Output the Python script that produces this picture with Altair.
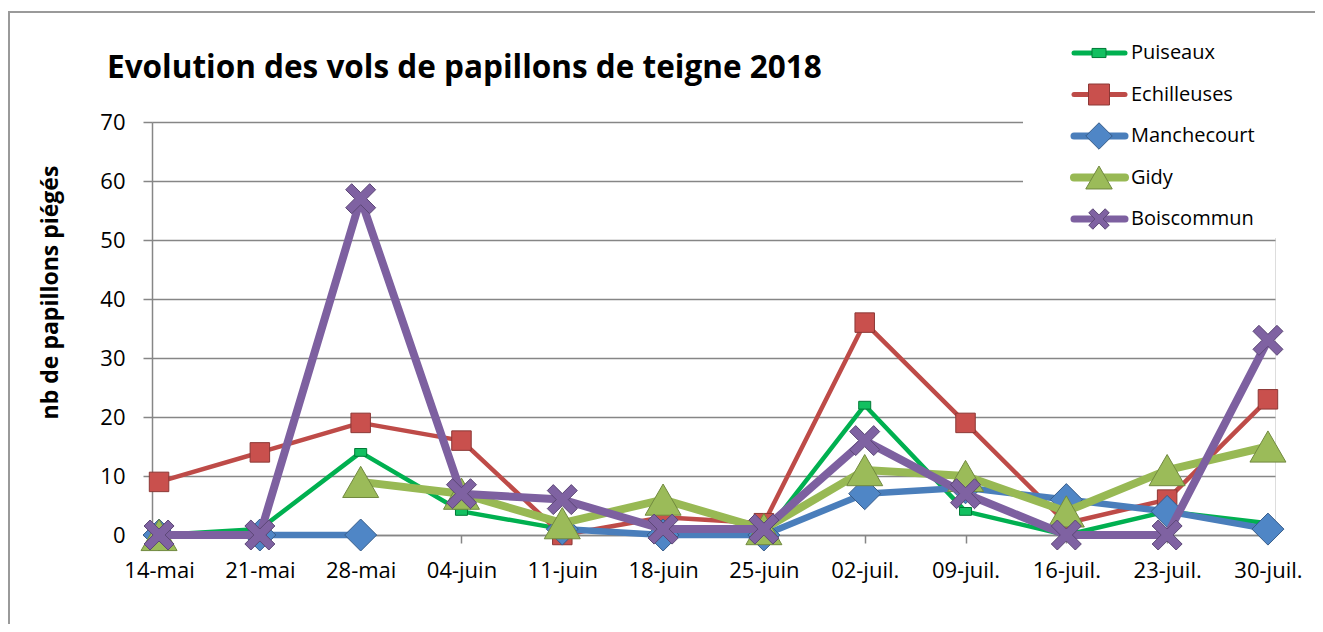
import altair as alt
import pandas as pd

# ---------------- data ----------------
dates = ["14-mai", "21-mai", "28-mai", "04-juin", "11-juin", "18-juin",
         "25-juin", "02-juil.", "09-juil.", "16-juil.", "23-juil.", "30-juil."]
sites = ["Puiseaux", "Echilleuses", "Manchecourt", "Gidy", "Boiscommun"]

puiseaux = [0, 1, 14, 4, 1, 0, 0, 22, 4, 0, 4, 2]
echilleuses = [9, 14, 19, 16, 0, 3, 2, 36, 19, 2, 6, 23]
manchecourt = [0, 0, 0, None, 1, 0, 0, 7, 8, 6, 4, 1]
gidy = [0, None, 9, 7, 2, 6, 1, 11, 10, 4, 11, 15]
boiscommun = [0, 0, 57, 7, 6, 1, 1, 16, 7, 0, 0, 33]

y_ticks = [0, 10, 20, 30, 40, 50, 60, 70]
title_text = "Evolution des vols de papillons de teigne 2018"
y_title = "nb  de papillons piégés"

series = {"Puiseaux": puiseaux, "Echilleuses": echilleuses,
          "Manchecourt": manchecourt, "Gidy": gidy, "Boiscommun": boiscommun}

rows = []
for s in sites:
    for d, v in zip(dates, series[s]):
        rows.append({"date": d, "site": s, "n": v})
df = pd.DataFrame(rows)

# ---------------- styles ----------------
line_colors = {"Puiseaux": "#00B050", "Echilleuses": "#BE4B48", "Manchecourt": "#4A7EBB",
               "Gidy": "#98B954", "Boiscommun": "#7D60A0"}
fill_colors = {"Puiseaux": "#12C060", "Echilleuses": "#C9504D", "Manchecourt": "#4F86C6",
               "Gidy": "#9BBB59", "Boiscommun": "#7F62A2"}
stroke_colors = {"Puiseaux": "#007A37", "Echilleuses": "#8C3836", "Manchecourt": "#385D8A",
                 "Gidy": "#71893F", "Boiscommun": "#5C4776"}
line_widths = {"Puiseaux": 4.5, "Echilleuses": 4.5, "Manchecourt": 6.5, "Gidy": 8, "Boiscommun": 8}
legend_line_widths = {"Puiseaux": 5, "Echilleuses": 5, "Manchecourt": 7, "Gidy": 8, "Boiscommun": 7}

X_PATH = "M-1,-0.6L-0.6,-1L0,-0.4L0.6,-1L1,-0.6L0.4,0L1,0.6L0.6,1L0,0.4L-0.6,1L-1,0.6L-0.4,0Z"
marker_shapes = {"Puiseaux": "M-1,-0.65H1V0.65H-1Z", "Echilleuses": "square",
                 "Manchecourt": "diamond", "Gidy": "triangle-up", "Boiscommun": X_PATH}
marker_sizes = {"Puiseaux": 144, "Echilleuses": 380, "Manchecourt": 1024, "Gidy": 1296,
                "Boiscommun": 900}
legend_marker_sizes = {"Puiseaux": 196, "Echilleuses": 441, "Manchecourt": 700, "Gidy": 700,
                       "Boiscommun": 420}

FONT = "Open Sans"

x_enc = alt.X("date:N", sort=dates, scale=alt.Scale(type="point", padding=0.07),
              axis=alt.Axis(title=None, labelAngle=0, labelFont=FONT, labelFontSize=22,
                            labelColor="black", labelPadding=17, tickSize=8,
                            tickColor="#868686", domainColor="#868686", domainWidth=1.5,
                            tickWidth=1.5, grid=False))
y_enc = alt.Y("n:Q", scale=alt.Scale(domain=[0, 70], nice=False, zero=True),
              axis=alt.Axis(values=y_ticks, title=y_title, titleFont=FONT, titleFontSize=23,
                            titleFontWeight="bold", titleColor="black", titleX=-95, titleY=170,
                            titleBaseline="alphabetic", titleAngle=270,
                            labelFont=FONT, labelFontSize=22, labelColor="black",
                            labelPadding=18, tickSize=9, tickColor="#868686", tickWidth=1.5,
                            domainColor="#868686", domainWidth=1.5, gridColor="#868686",
                            gridWidth=1.5, grid=True))

base = alt.Chart(df)
one = pd.DataFrame({"k": [0]})
layers = []

# white area behind the legend (hides gridlines there)
layers.append(alt.Chart(one).mark_rect(color="white").encode(
    x=alt.value(871), x2=alt.value(1124), y=alt.value(-95), y2=alt.value(116)))

for s in sites:
    sub = base.transform_filter(alt.datum.site == s)
    layers.append(sub.mark_line(strokeWidth=line_widths[s], strokeJoin="round",
                                color=line_colors[s],
                                invalid="break-paths-show-domains")
                  .encode(x=x_enc, y=y_enc))
    layers.append(sub.mark_point(filled=True, shape=marker_shapes[s], size=marker_sizes[s],
                                 fill=fill_colors[s], stroke=stroke_colors[s], strokeWidth=1,
                                 opacity=1)
                  .encode(x=x_enc, y=y_enc))

# legend (line sample + marker + label), top right
LEG_X0, LEG_X1, LEG_XM, LEG_XT = 919, 976, 947, 979
LEG_Y0, LEG_DY = -69, 41.5
for i, s in enumerate(sites):
    yy = LEG_Y0 + i * LEG_DY
    leg = alt.Chart(pd.DataFrame({"site": [s]}))
    layers.append(leg.mark_rule(color=line_colors[s], strokeWidth=legend_line_widths[s],
                                strokeCap="round").encode(
        x=alt.value(LEG_X0 + 3), x2=alt.value(LEG_X1 - 3), y=alt.value(yy)))
    layers.append(leg.mark_point(filled=True, shape=marker_shapes[s], size=legend_marker_sizes[s],
                                 fill=fill_colors[s], stroke=stroke_colors[s], strokeWidth=1,
                                 opacity=1).encode(x=alt.value(LEG_XM), y=alt.value(yy)))
    layers.append(leg.mark_text(font=FONT, fontSize=20, color="black", align="left",
                                baseline="middle").encode(
        x=alt.value(LEG_XT), y=alt.value(yy), text="site:N"))

# frame (left and top edges of the chart area border)
layers.append(alt.Chart(one).mark_rule(color="#9a9a9a", strokeWidth=2).encode(
    x=alt.value(-143), y=alt.value(-110), y2=alt.value(502)))
layers.append(alt.Chart(one).mark_rule(color="#9a9a9a", strokeWidth=2).encode(
    x=alt.value(-144), x2=alt.value(1163), y=alt.value(-110)))

# title
layers.append(alt.Chart(one).mark_text(text=title_text, font=FONT, fontSize=31.5,
                                       fontWeight="bold", color="black", align="left",
                                       baseline="alphabetic").encode(
    x=alt.value(-45), y=alt.value(-44)))

chart = alt.layer(*layers).properties(
    width=1123, height=413,
    autosize=alt.AutoSizeParams(type="none"),
    padding={"left": 144, "top": 114, "right": 40, "bottom": 89},
).configure_view(stroke=None).configure(background="white")

chart.save("out.html", embed_options={"renderer": "svg", "actions": False})
